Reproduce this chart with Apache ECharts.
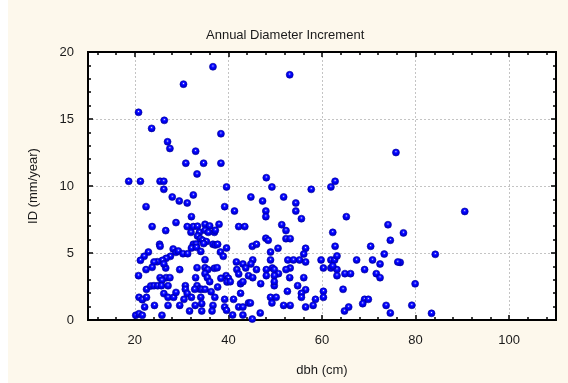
<!DOCTYPE html>
<html>
<head>
<meta charset="utf-8">
<title>Annual Diameter Increment</title>
<script src="https://cdn.jsdelivr.net/npm/echarts@6/dist/echarts.min.js"></script>
<style>
    html, body { margin: 0; padding: 0; background: #fff; }
    #incCharts { width: 568px; height: 383px; }
</style>
</head>
<body>
<div id="incCharts"></div>
<script>
    // dbh (cm) of every tree
    const dbh = [
        36.7, 30.4, 20.8, 26.3, 23.6, 38.4, 27.0, 27.5, 33.0, 30.9, 34.7, 38.4, 33.3,
        53.1, 75.8,
        90.5, 77.4, 84.2, 76.7, 79.9, 79.2, 83.4,
        18.7, 21.2, 25.4, 26.2, 39.6, 26.2, 28.0, 32.5, 29.5, 31.2,
        22.4, 39.2, 32.1, 28.8, 23.7, 31.2, 32.5, 33.4, 35.0, 36.0,
        38.0, 26.6, 32.0, 33.8, 35.0, 35.7, 37.0, 37.2, 33.4, 34.0,
        34.5, 35.3, 32.5, 33.1, 34.7, 36.7, 37.2, 37.7, 32.1, 33.2,
        34.1, 39.6, 25.3, 25.4, 22.9, 22.0, 21.2, 28.2, 28.8, 29.3,
        30.3, 31.3, 38.3, 38.9, 27.6, 26.7, 25.9, 24.8, 24.1, 23.7,
        22.4, 26.6, 26.2, 35.0, 33.3, 35.0, 35.6, 37.0, 37.6, 29.6,
        20.8, 25.4, 26.7, 27.5, 25.8, 39.5, 40.0, 38.4, 39.7,
        33.0, 35.0, 35.5, 36.0, 22.5, 23.4, 24.1, 24.9, 25.7, 27.1,
        30.8, 30.8, 31.2, 33.3, 33.8, 32.8, 34.3, 35.0, 36.3, 37.7,
        20.9, 21.6, 22.5, 26.2, 27.1, 28.3, 28.8, 29.6, 30.5, 32.1,
        34.1, 37.1, 39.2, 22.1, 24.2, 27.1, 31.7, 32.9, 34.3, 34.3,
        36.7, 36.5, 39.2, 39.6, 20.2, 20.9, 21.6, 25.8,
        48.1, 62.8, 61.9, 49.3, 57.7, 44.8, 47.3, 51.8, 54.4, 41.3,
        48.0, 54.4, 48.0, 55.6, 65.2, 51.4, 42.2, 43.5, 52.3, 74.1,
        62.3, 48.0, 48.5, 52.3, 53.2, 74.6, 45.1, 46.0, 50.6, 56.5,
        62.8, 70.4, 49.0, 56.1, 73.3, 41.7, 45.2, 49.0, 52.7, 53.9,
        55.2, 56.5, 59.8, 61.9, 62.7, 63.2, 67.4, 70.8, 76.2, 72.4,
        43.1, 44.8, 60.3, 61.9, 63.2, 62.3, 69.1, 71.6, 72.4, 64.9,
        66.1, 63.2, 41.8, 42.2, 43.7, 44.3, 45.2, 46.0, 48.1, 48.1,
        49.4, 49.8, 50.7, 53.1, 56.1, 53.2, 52.3, 49.8, 40.4, 42.6,
        43.1, 46.9, 49.8, 54.8, 56.5, 55.6, 55.6, 52.6, 49.8, 42.6,
        41.1, 49.0, 50.2, 49.3, 58.6, 58.1, 60.3, 60.3, 64.5, 69.1,
        69.9, 68.7, 73.7, 74.6, 42.2, 43.1, 44.3, 44.7, 51.8, 53.2,
        56.5, 46.8, 64.8, 65.7, 40.9, 43.1, 45.1
    ]
    // annual diameter increment ID (mm/year), same order as dbh
    const idInc = [
        18.9, 17.6, 15.5, 14.9, 14.3, 13.9, 13.3, 12.8, 12.6, 11.7, 11.7, 11.7, 10.9,
        18.3, 12.5,
        8.1, 6.5, 4.9, 4.3, 2.7, 1.1, 0.5,
        10.35, 10.35, 10.35, 10.35, 9.93, 9.75, 9.18, 9.33, 8.88, 8.73,
        8.46, 8.46, 7.71, 7.27, 6.97, 6.97, 6.97, 7.0, 7.14, 7.02,
        7.14, 6.67, 6.54, 6.54, 6.69, 6.54, 6.54, 6.69, 6.27, 6.07,
        5.95, 5.85, 5.65, 5.67, 5.7, 5.65, 5.6, 5.65, 5.37, 5.42,
        5.12, 5.37, 5.65, 5.5, 5.07, 4.75, 4.45, 5.3, 5.05, 5.15,
        4.95, 4.95, 5.07, 4.75, 4.75, 4.6, 4.45, 4.35, 4.33, 3.93,
        3.76, 3.88, 4.18, 4.5, 3.9, 3.9, 3.76, 3.86, 3.9, 3.76,
        3.31, 3.16, 3.16, 3.16, 2.96, 3.31, 3.11, 3.11, 2.84,
        3.16, 3.46, 3.16, 2.86, 2.29, 2.54, 2.56, 2.56, 2.56, 2.56,
        2.56, 2.29, 1.97, 2.56, 2.31, 2.29, 2.29, 2.29, 2.11, 2.46,
        1.69, 1.52, 1.69, 1.97, 1.69, 1.69, 2.06, 1.09, 1.54, 1.69,
        1.69, 1.69, 1.54, 0.97, 1.09, 1.09, 0.67, 1.09, 1.22, 0.67,
        1.09, 0.67, 0.97, 0.72, 0.35, 0.47, 0.35, 0.35,
        10.62, 10.35, 9.93, 9.93, 9.75, 9.18, 8.88, 9.18, 8.73, 8.13,
        8.13, 8.13, 7.71, 7.56, 7.71, 7.11, 6.97, 6.97, 6.67, 7.11,
        6.54, 6.1, 5.95, 6.07, 6.07, 5.95, 5.5, 5.65, 5.35, 5.35,
        5.5, 5.5, 5.07, 4.92, 4.92, 4.33, 4.48, 4.48, 4.48, 4.48,
        4.48, 4.33, 4.48, 4.48, 4.48, 4.78, 4.48, 4.48, 4.33, 4.18,
        4.18, 4.18, 3.88, 3.88, 3.76, 4.03, 3.76, 3.46, 3.16, 3.46,
        3.46, 3.31, 3.76, 3.43, 3.88, 3.31, 3.16, 3.76, 3.76, 3.31,
        3.88, 3.76, 3.46, 3.16, 3.16, 3.88, 3.76, 3.31, 2.86, 2.71,
        2.86, 2.71, 2.56, 2.56, 2.26, 1.99, 1.69, 2.14, 2.86, 1.99,
        1.54, 1.69, 1.69, 1.27, 1.54, 1.09, 2.14, 1.69, 2.29, 1.54,
        1.54, 1.22, 1.09, 0.52, 0.97, 0.97, 1.27, 1.27, 1.09, 1.09,
        0.97, 0.52, 0.67, 0.97, 0.37, 0.37, 0.07
    ]
    // tick positions
    const xMajorTicks = [20, 40, 60, 80, 100]
    const xMinorTicks = [12, 16, 24, 28, 32, 36, 44, 48, 52, 56, 64, 68, 72, 76, 84, 88, 92, 96, 104, 108]

    const points = dbh.map((d, i) => [d, idInc[i]])

    const fontFamily = '"Liberation Sans", Arial, sans-serif'
    const textColor = '#1a1a1a'
    const frameLine = {show: true, onZero: false, lineStyle: {color: '#000', width: 2}}
    const dotGrid = {show: true, lineStyle: {color: '#c4c4c4', width: 1, type: [2, 2]}}

    // one x axis for the major ticks and one for the minor ticks, bottom and top
    function xAxisOf(position, ticks, tickLen, withLabels) {
        return {
            type: 'value',
            position: position,
            min: 10,
            max: 110,
            axisLine: frameLine,
            axisTick: {show: true, inside: true, length: tickLen, customValues: ticks, lineStyle: {color: '#000', width: 1.5}},
            axisLabel: withLabels
                ? {show: true, customValues: ticks, margin: 14, color: textColor, fontSize: 13, fontFamily: fontFamily}
                : {show: false},
            splitLine: withLabels ? dotGrid : {show: false},
            name: withLabels ? 'dbh (cm)' : '',
            nameLocation: 'middle',
            nameGap: 44,
            nameTextStyle: {color: textColor, fontSize: 13, fontFamily: fontFamily}
        }
    }

    function yAxisOf(position, withLabels) {
        return {
            type: 'value',
            position: position,
            min: 0,
            max: 20,
            interval: 5,
            axisLine: frameLine,
            axisTick: {show: true, inside: true, length: 5, lineStyle: {color: '#000', width: 1.5}},
            minorTick: {show: true, splitNumber: 5, length: 3, lineStyle: {color: '#000', width: 1.5}},
            axisLabel: withLabels
                ? {show: true, margin: 14, color: textColor, fontSize: 13, fontFamily: fontFamily}
                : {show: false},
            splitLine: withLabels ? dotGrid : {show: false},
            name: withLabels ? 'ID (mm/year)' : '',
            nameLocation: 'middle',
            nameRotate: 90,
            nameGap: 48,
            nameTextStyle: {color: textColor, fontSize: 13, fontFamily: fontFamily}
        }
    }

    const incOption = {
        backgroundColor: '#fff',
        animation: false,
        graphic: {
            elements: [{
                type: 'rect',
                z: -10,
                silent: true,
                shape: {x: 8, y: 0, width: 560, height: 383},
                style: {fill: '#fdf8ec'}
            }]
        },
        title: {
            text: 'Annual Diameter Increment',
            left: 206,
            top: 29,
            padding: 0,
            textStyle: {color: textColor, fontSize: 13, fontWeight: 'normal', fontFamily: fontFamily}
        },
        grid: {
            left: 88,
            right: 12,
            top: 52,
            bottom: 63,
            show: true,
            backgroundColor: '#fff',
            borderWidth: 0
        },
        xAxis: [
            xAxisOf('bottom', xMajorTicks, 5, true),
            xAxisOf('bottom', xMinorTicks, 3, false),
            xAxisOf('top', xMajorTicks, 5, false),
            xAxisOf('top', xMinorTicks, 3, false)
        ],
        yAxis: [
            yAxisOf('left', true),
            yAxisOf('right', false)
        ],
        series: [{
            type: 'scatter',
            xAxisIndex: 0,
            yAxisIndex: 0,
            data: points,
            symbol: 'circle',
            symbolSize: 7,
            silent: true,
            itemStyle: {
                color: new echarts.graphic.RadialGradient(0.5, 0.4, 0.55, [
                    {offset: 0, color: '#ffffff'},
                    {offset: 0.2, color: '#3030ff'},
                    {offset: 0.45, color: '#0000ff'},
                    {offset: 1, color: '#0000c8'}
                ]),
                borderColor: '#00009a',
                borderWidth: 0.6,
                opacity: 1
            }
        }]
    }

    const incCharts = echarts.init(document.getElementById('incCharts'))
    incCharts.setOption(incOption)
    window.addEventListener('resize', () => incCharts.resize())
</script>
</body>
</html>
